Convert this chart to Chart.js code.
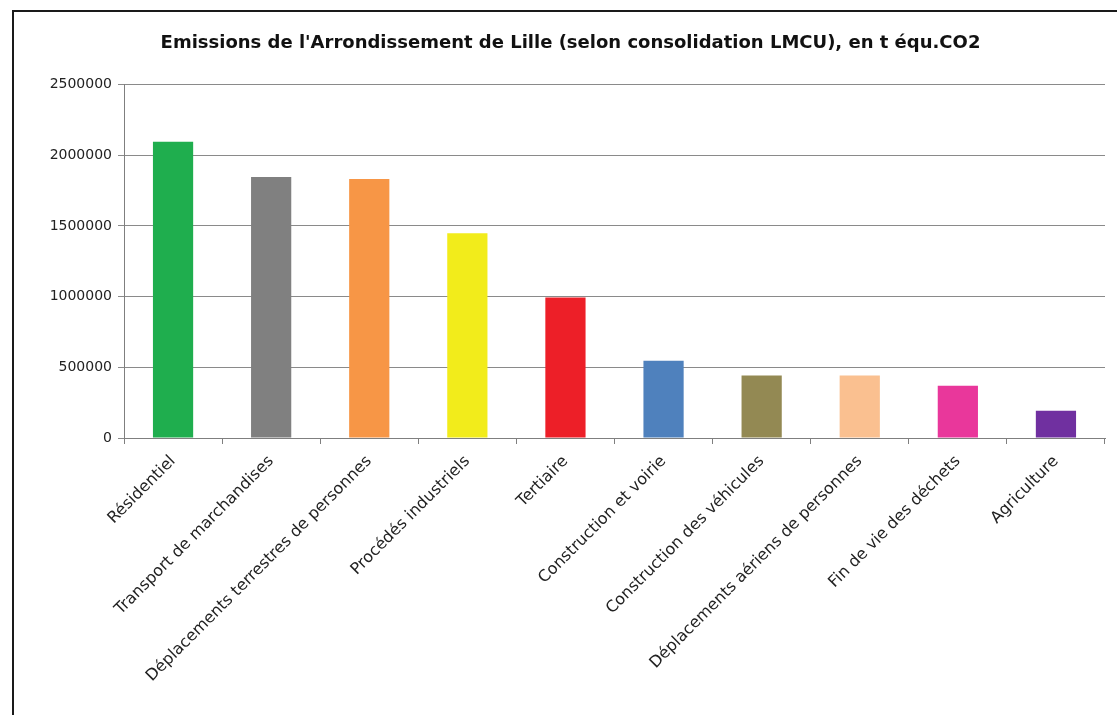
<!DOCTYPE html>
<html>
<head>
<meta charset="utf-8">
<script src="https://cdn.jsdelivr.net/npm/chart.js@4"></script>
<style>
  html, body { margin: 0; padding: 0; background: #fff; overflow: hidden; }
  #frame { position: absolute; left: 12px; top: 10px; width: 1200px; height: 800px; border: 2px solid #1a1a1a; }
  #wrap { position: absolute; left: 0; top: 0; width: 1117px; height: 715px; }
</style>
</head>
<body>
<div id="frame"></div>
<div id="wrap"><canvas id="emissions"></canvas></div>
<script>
const categories = [
  "Résidentiel",
  "Transport de marchandises",
  "Déplacements terrestres de personnes",
  "Procédés industriels",
  "Tertiaire",
  "Construction et voirie",
  "Construction des véhicules",
  "Déplacements aériens de personnes",
  "Fin de vie des déchets",
  "Agriculture"
];
const emissions = [2095000, 1847000, 1832000, 1449000, 994000, 547000, 442000, 442000, 369000, 192000];
const barColors = [
  "#1fae4e", "#808080", "#f79646", "#f2ec1b", "#ed1f28",
  "#4f81bd", "#938953", "#fac090", "#e9379b", "#7030a0"
];

let ctx = document.getElementById('emissions').getContext('2d')

let emissionsChart = new Chart(ctx, {
  type: 'bar',
  data: {
    labels: categories,
    datasets: [{
      data: emissions,
      backgroundColor: barColors,
      barPercentage: 0.41,
      categoryPercentage: 1.0
    }]
  },
  options: {
    responsive: true,
    maintainAspectRatio: false,
    animation: false,
    events: [],
    layout: { padding: { left: 36, right: 12, top: 0, bottom: 0 } },
    plugins: {
      legend: { display: false },
      tooltip: { enabled: false },
      title: {
        display: true,
        text: "Emissions de l'Arrondissement de Lille (selon consolidation LMCU), en t équ.CO2",
        color: '#111',
        font: { family: 'DejaVu Sans', size: 18, weight: 'bold' },
        padding: { top: 33, bottom: 30 }
      }
    },
    scales: {
      x: {
        grid: { display: true, drawOnChartArea: false, offset: true, color: '#7f7f7f', tickLength: 6 },
        border: { display: true, color: '#7f7f7f' },
        ticks: {
          autoSkip: false,
          maxRotation: 45,
          minRotation: 45,
          color: '#222',
          padding: 8,
          font: { family: 'DejaVu Sans', size: 16 }
        },
        afterFit: function(scale) { scale.height = 277 }
      },
      y: {
        min: 0,
        max: 2500000,
        ticks: {
          stepSize: 500000,
          color: '#222',
          padding: 6,
          font: { family: 'DejaVu Sans', size: 14 },
          callback: function(v) { return String(v) }
        },
        grid: { color: '#8a8a8a', tickLength: 6 },
        border: { display: true, color: '#7f7f7f' },
        afterFit: function(scale) { scale.width = 88 }
      }
    }
  }
});
</script>
</body>
</html>
